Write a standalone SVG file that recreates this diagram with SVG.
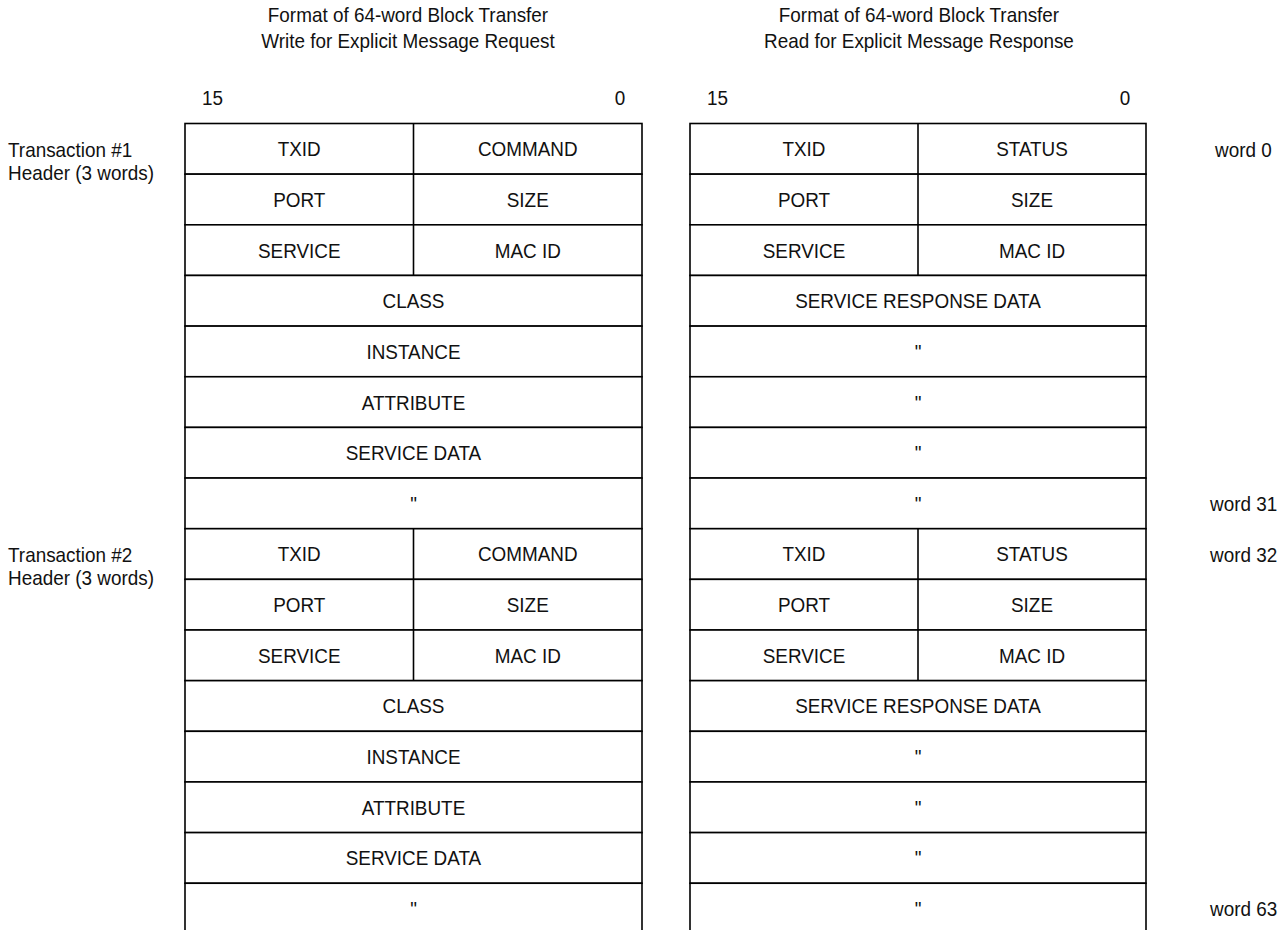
<svg xmlns="http://www.w3.org/2000/svg" width="1284" height="930" viewBox="0 0 1284 930">
<style>
text{font-family:"Liberation Sans",Arial,sans-serif;font-size:21px;fill:#111}
.c{text-anchor:middle}
.cell{fill:#fff;stroke:#000;stroke-width:1.6}
.div{stroke:#000;stroke-width:1.6}
</style>
<rect width="1284" height="930" fill="#fff"/>
<g id="request-table">
<g id="req-rows">
<rect class="cell" x="185" y="123.5" width="457" height="50.65"/>
<rect class="cell" x="185" y="174.15" width="457" height="50.65"/>
<rect class="cell" x="185" y="224.8" width="457" height="50.65"/>
<rect class="cell" x="185" y="275.45" width="457" height="50.65"/>
<rect class="cell" x="185" y="326.1" width="457" height="50.65"/>
<rect class="cell" x="185" y="376.75" width="457" height="50.65"/>
<rect class="cell" x="185" y="427.4" width="457" height="50.65"/>
<rect class="cell" x="185" y="478.05" width="457" height="50.65"/>
<rect class="cell" x="185" y="528.7" width="457" height="50.65"/>
<rect class="cell" x="185" y="579.35" width="457" height="50.65"/>
<rect class="cell" x="185" y="630" width="457" height="50.65"/>
<rect class="cell" x="185" y="680.65" width="457" height="50.65"/>
<rect class="cell" x="185" y="731.3" width="457" height="50.65"/>
<rect class="cell" x="185" y="781.95" width="457" height="50.65"/>
<rect class="cell" x="185" y="832.6" width="457" height="50.65"/>
<rect class="cell" x="185" y="883.25" width="457" height="60"/>
<line class="div" x1="413.5" y1="123.5" x2="413.5" y2="275.45"/>
<line class="div" x1="413.5" y1="528.7" x2="413.5" y2="680.65"/>
</g>
<g id="req-text" transform="scale(0.9,1)">
<text class="c" x="332.5" y="156.3">TXID</text>
<text class="c" x="586.39" y="156.3">COMMAND</text>
<text class="c" x="332.5" y="207">PORT</text>
<text class="c" x="586.39" y="207">SIZE</text>
<text class="c" x="332.5" y="257.6">SERVICE</text>
<text class="c" x="586.39" y="257.6">MAC ID</text>
<text class="c" x="459.44" y="308.3">CLASS</text>
<text class="c" x="459.44" y="358.9">INSTANCE</text>
<text class="c" x="459.44" y="409.6">ATTRIBUTE</text>
<text class="c" x="459.44" y="460.2">SERVICE DATA</text>
<text class="c" x="459.44" y="510.9">"</text>
<text class="c" x="332.5" y="561.5">TXID</text>
<text class="c" x="586.39" y="561.5">COMMAND</text>
<text class="c" x="332.5" y="612.2">PORT</text>
<text class="c" x="586.39" y="612.2">SIZE</text>
<text class="c" x="332.5" y="662.8">SERVICE</text>
<text class="c" x="586.39" y="662.8">MAC ID</text>
<text class="c" x="459.44" y="713.5">CLASS</text>
<text class="c" x="459.44" y="764.1">INSTANCE</text>
<text class="c" x="459.44" y="814.8">ATTRIBUTE</text>
<text class="c" x="459.44" y="865.4">SERVICE DATA</text>
<text class="c" x="459.44" y="916.1">"</text>
</g>
</g>
<g id="response-table">
<g id="resp-rows">
<rect class="cell" x="690" y="123.5" width="456" height="50.65"/>
<rect class="cell" x="690" y="174.15" width="456" height="50.65"/>
<rect class="cell" x="690" y="224.8" width="456" height="50.65"/>
<rect class="cell" x="690" y="275.45" width="456" height="50.65"/>
<rect class="cell" x="690" y="326.1" width="456" height="50.65"/>
<rect class="cell" x="690" y="376.75" width="456" height="50.65"/>
<rect class="cell" x="690" y="427.4" width="456" height="50.65"/>
<rect class="cell" x="690" y="478.05" width="456" height="50.65"/>
<rect class="cell" x="690" y="528.7" width="456" height="50.65"/>
<rect class="cell" x="690" y="579.35" width="456" height="50.65"/>
<rect class="cell" x="690" y="630" width="456" height="50.65"/>
<rect class="cell" x="690" y="680.65" width="456" height="50.65"/>
<rect class="cell" x="690" y="731.3" width="456" height="50.65"/>
<rect class="cell" x="690" y="781.95" width="456" height="50.65"/>
<rect class="cell" x="690" y="832.6" width="456" height="50.65"/>
<rect class="cell" x="690" y="883.25" width="456" height="60"/>
<line class="div" x1="918" y1="123.5" x2="918" y2="275.45"/>
<line class="div" x1="918" y1="528.7" x2="918" y2="680.65"/>
</g>
<g id="resp-text" transform="scale(0.9,1)">
<text class="c" x="893.33" y="156.3">TXID</text>
<text class="c" x="1146.67" y="156.3">STATUS</text>
<text class="c" x="893.33" y="207">PORT</text>
<text class="c" x="1146.67" y="207">SIZE</text>
<text class="c" x="893.33" y="257.6">SERVICE</text>
<text class="c" x="1146.67" y="257.6">MAC ID</text>
<text class="c" x="1020" y="308.3">SERVICE RESPONSE DATA</text>
<text class="c" x="1020" y="358.9">"</text>
<text class="c" x="1020" y="409.6">"</text>
<text class="c" x="1020" y="460.2">"</text>
<text class="c" x="1020" y="510.9">"</text>
<text class="c" x="893.33" y="561.5">TXID</text>
<text class="c" x="1146.67" y="561.5">STATUS</text>
<text class="c" x="893.33" y="612.2">PORT</text>
<text class="c" x="1146.67" y="612.2">SIZE</text>
<text class="c" x="893.33" y="662.8">SERVICE</text>
<text class="c" x="1146.67" y="662.8">MAC ID</text>
<text class="c" x="1020" y="713.5">SERVICE RESPONSE DATA</text>
<text class="c" x="1020" y="764.1">"</text>
<text class="c" x="1020" y="814.8">"</text>
<text class="c" x="1020" y="865.4">"</text>
<text class="c" x="1020" y="916.1">"</text>
</g>
</g>
<g id="titles" transform="scale(0.9,1)">
<text class="c" x="453.33" y="22">Format of 64-word Block Transfer</text>
<text class="c" x="453.33" y="48">Write for Explicit Message Request</text>
<text class="c" x="1021.11" y="22">Format of 64-word Block Transfer</text>
<text class="c" x="1021.11" y="48">Read for Explicit Message Response</text>
</g>
<g id="bit-labels" transform="scale(0.9,1)">
<text x="224.44" y="105">15</text>
<text class="c" x="688.89" y="105">0</text>
<text x="785.56" y="105">15</text>
<text class="c" x="1250" y="105">0</text>
</g>
<g id="side-labels" transform="scale(0.9,1)">
<text x="8.89" y="157">Transaction #1</text>
<text x="8.89" y="180.5">Header (3 words)</text>
<text x="8.89" y="562">Transaction #2</text>
<text x="8.89" y="585.5">Header (3 words)</text>
<text x="1350" y="157">word 0</text>
<text x="1344.44" y="511">word 31</text>
<text x="1344.44" y="562">word 32</text>
<text x="1344.44" y="916">word 63</text>
</g>
</svg>
